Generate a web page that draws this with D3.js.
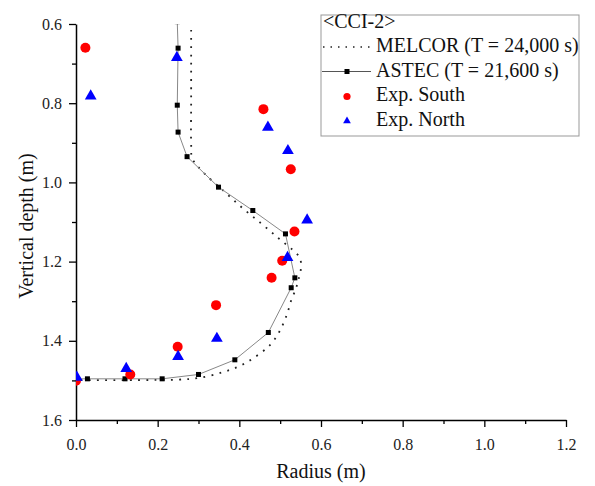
<!DOCTYPE html>
<html>
<head>
<meta charset="utf-8">
<script src="https://cdn.jsdelivr.net/npm/d3@7"></script>
<style>
  body { margin: 0; background: #fff; }
  svg { font-family: "Liberation Serif", "Times New Roman", serif; }
</style>
</head>
<body>
<svg width="595" height="486"></svg>
<script>
// radius (m), vertical depth (m)
const melcor = [
  [0.282, 0.615], [0.282, 0.700], [0.282, 0.800], [0.282, 0.900], [0.285, 0.940],
  [0.312, 0.975], [0.360, 1.020], [0.408, 1.065], [0.455, 1.105], [0.496, 1.141],
  [0.530, 1.170], [0.548, 1.190], [0.551, 1.215], [0.545, 1.245], [0.538, 1.270],
  [0.528, 1.295], [0.516, 1.335], [0.498, 1.377], [0.475, 1.411], [0.434, 1.444],
  [0.398, 1.465], [0.357, 1.480], [0.300, 1.494], [0.250, 1.498], [0.150, 1.499],
  [0.000, 1.499]
];
const astec = [
  [0.248, 0.594], [0.250, 0.661], [0.248, 0.805], [0.250, 0.873], [0.272, 0.935],
  [0.349, 1.012], [0.433, 1.071], [0.513, 1.130], [0.536, 1.241], [0.527, 1.266],
  [0.471, 1.379], [0.389, 1.448], [0.300, 1.485], [0.211, 1.496], [0.120, 1.496],
  [0.028, 1.496], [0.000, 1.496]
];
const expSouth = [
  [0.023, 0.660], [0.459, 0.815], [0.526, 0.967], [0.535, 1.124], [0.505, 1.198],
  [0.479, 1.241], [0.343, 1.310], [0.249, 1.415], [0.133, 1.485], [0.000, 1.501]
];
const expNorth = [
  [0.247, 0.685], [0.036, 0.782], [0.470, 0.861], [0.519, 0.920], [0.566, 1.095],
  [0.518, 1.190], [0.345, 1.394], [0.250, 1.440], [0.123, 1.470], [0.002, 1.492]
];
const xMajor = [0, 0.2, 0.4, 0.6, 0.8, 1.0, 1.2];
const xMinor = [0.1, 0.3, 0.5, 0.7, 0.9, 1.1];
const yMajor = [0.6, 0.8, 1.0, 1.2, 1.4, 1.6];
const yMinor = [0.7, 0.9, 1.1, 1.3, 1.5];
const legendItems = ["MELCOR (T = 24,000 s)", "ASTEC (T = 21,600 s)", "Exp. South", "Exp. North"];

const svg = d3.select("svg");
const plotL = 76, plotR = 566, plotT = 24, plotB = 420;

const x = d3.scaleLinear().domain([0, 1.2]).range([plotL, plotR]);
const y = d3.scaleLinear().domain([0.6, 1.6]).range([plotT, plotB]);

// axes
svg.append("g")
  .attr("transform", `translate(0,${plotB})`)
  .call(d3.axisBottom(x).tickValues(xMajor).tickFormat(d3.format(".1f"))
    .tickSize(7).tickPadding(12).tickSizeOuter(0));
svg.append("g")
  .attr("transform", `translate(0,${plotB})`)
  .call(d3.axisBottom(x).tickValues(xMinor).tickFormat("").tickSize(4).tickSizeOuter(0))
  .select(".domain").remove();

svg.append("g")
  .attr("transform", `translate(${plotL},0)`)
  .call(d3.axisLeft(y).tickValues(yMajor).tickFormat(d3.format(".1f"))
    .tickSize(7).tickPadding(7).tickSizeOuter(0));
svg.append("g")
  .attr("transform", `translate(${plotL},0)`)
  .call(d3.axisLeft(y).tickValues(yMinor).tickFormat("").tickSize(4).tickSizeOuter(0))
  .select(".domain").remove();

svg.selectAll(".domain").attr("stroke", "#000").attr("stroke-width", 1.5);
svg.selectAll(".tick line").attr("stroke", "#000").attr("stroke-width", 1.3);
svg.selectAll(".tick text")
  .style("font-family", "'Liberation Serif', 'Times New Roman', serif")
  .attr("font-size", 16)
  .attr("fill", "#222");

// axis titles
svg.append("text")
  .attr("x", (plotL + plotR) / 2)
  .attr("y", 478)
  .attr("text-anchor", "middle")
  .attr("font-size", 20)
  .attr("fill", "#111")
  .text("Radius (m)");

svg.append("text")
  .attr("transform", "translate(33,226) rotate(-90)")
  .attr("text-anchor", "middle")
  .attr("font-size", 20)
  .attr("fill", "#111")
  .text("Vertical depth (m)");

// plot content, clipped to the frame
svg.append("clipPath").attr("id", "plot-clip")
  .append("rect")
  .attr("x", plotL).attr("y", plotT)
  .attr("width", plotR - plotL).attr("height", plotB - plotT);

const g = svg.append("g").attr("clip-path", "url(#plot-clip)");

const line = d3.line()
  .x((d) => x(d[0]))
  .y((d) => y(d[1]));

g.append("path")
  .attr("d", line.curve(d3.curveCatmullRom)(melcor))
  .attr("fill", "none")
  .attr("stroke", "#222")
  .attr("stroke-width", 1.8)
  .attr("stroke-dasharray", "1.8,6.4");

g.append("path")
  .attr("d", line.curve(d3.curveLinear)(astec))
  .attr("fill", "none")
  .attr("stroke", "#888")
  .attr("stroke-width", 1);

g.selectAll(".astec-pt")
  .data(astec.filter((d) => d[0] > 0))
  .enter()
  .append("rect")
  .attr("class", "astec-pt")
  .attr("x", (d) => x(d[0]) - 2.5)
  .attr("y", (d) => y(d[1]) - 2.5)
  .attr("width", 5)
  .attr("height", 5)
  .attr("fill", "#000");

g.selectAll(".south")
  .data(expSouth)
  .enter()
  .append("circle")
  .attr("class", "south")
  .attr("cx", (d) => x(d[0]))
  .attr("cy", (d) => y(d[1]))
  .attr("r", 5)
  .attr("fill", "#ff0000");

const tri = d3.symbol().type(d3.symbolTriangle).size(60);
g.selectAll(".north")
  .data(expNorth)
  .enter()
  .append("path")
  .attr("class", "north")
  .attr("transform", (d) => `translate(${x(d[0])},${y(d[1])})`)
  .attr("d", tri)
  .attr("fill", "#0000ff");

// legend
const lg = svg.append("g");
lg.append("rect")
  .attr("x", 321).attr("y", 15)
  .attr("width", 258).attr("height", 121)
  .attr("fill", "#fff")
  .attr("stroke", "#999")
  .attr("stroke-width", 1);

lg.append("text")
  .attr("x", 323).attr("y", 28)
  .attr("font-size", 20)
  .attr("fill", "#111")
  .text("<CCI-2>");

lg.selectAll(".lg-text")
  .data(legendItems)
  .enter()
  .append("text")
  .attr("class", "lg-text")
  .attr("x", 376)
  .attr("y", (d, i) => 52 + i * 24.7)
  .attr("font-size", 20)
  .attr("fill", "#111")
  .text((d) => d);

lg.append("line")
  .attr("x1", 323).attr("x2", 370).attr("y1", 47).attr("y2", 47)
  .attr("stroke", "#222").attr("stroke-width", 1.5)
  .attr("stroke-dasharray", "1.5,6");
lg.append("line")
  .attr("x1", 322).attr("x2", 371).attr("y1", 71.5).attr("y2", 71.5)
  .attr("stroke", "#555").attr("stroke-width", 1);
lg.append("rect")
  .attr("x", 344.5).attr("y", 69).attr("width", 5).attr("height", 5)
  .attr("fill", "#000");
lg.append("circle")
  .attr("cx", 347).attr("cy", 96.5).attr("r", 3.6)
  .attr("fill", "#ff0000");
lg.append("path")
  .attr("transform", "translate(347,121)")
  .attr("d", d3.symbol().type(d3.symbolTriangle).size(26))
  .attr("fill", "#0000ff");
</script>
</body>
</html>
